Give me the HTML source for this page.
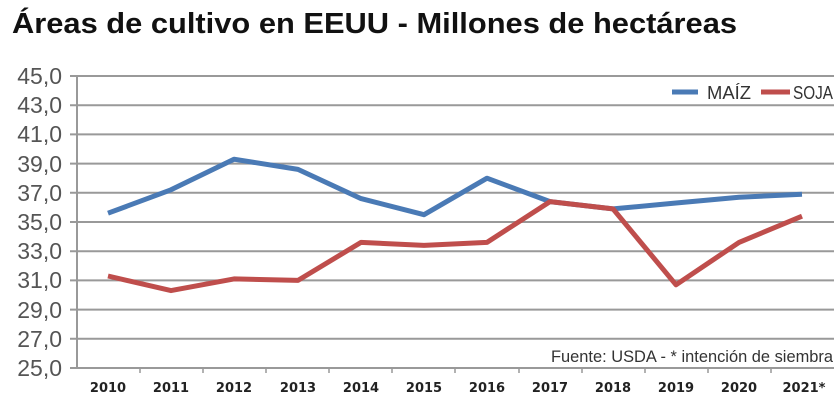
<!DOCTYPE html>
<html><head><meta charset="utf-8"><style>body{margin:0;background:#fff}</style></head><body>
<svg width="840" height="400" xmlns="http://www.w3.org/2000/svg" font-family="Liberation Sans, sans-serif">
<text x="12" y="33" font-size="29" font-weight="bold" fill="#111" textLength="725" lengthAdjust="spacingAndGlyphs">Áreas de cultivo en EEUU - Millones de hectáreas</text>
<g stroke="#999" stroke-width="2">
<line x1="70" y1="76" x2="834" y2="76"/><line x1="70" y1="105.2" x2="834" y2="105.2"/><line x1="70" y1="134.4" x2="834" y2="134.4"/><line x1="70" y1="163.6" x2="834" y2="163.6"/><line x1="70" y1="192.8" x2="834" y2="192.8"/><line x1="70" y1="222" x2="834" y2="222"/><line x1="70" y1="251.2" x2="834" y2="251.2"/><line x1="70" y1="280.4" x2="834" y2="280.4"/><line x1="70" y1="309.6" x2="834" y2="309.6"/><line x1="70" y1="338.8" x2="834" y2="338.8"/><line x1="70" y1="368" x2="834" y2="368"/>
<line x1="77" y1="76" x2="77" y2="368"/>
</g>
<g stroke="#999" stroke-width="1.5">
<line x1="140" y1="368" x2="140" y2="373"/><line x1="203" y1="368" x2="203" y2="373"/><line x1="266" y1="368" x2="266" y2="373"/><line x1="329" y1="368" x2="329" y2="373"/><line x1="392" y1="368" x2="392" y2="373"/><line x1="455" y1="368" x2="455" y2="373"/><line x1="519" y1="368" x2="519" y2="373"/><line x1="582" y1="368" x2="582" y2="373"/><line x1="645" y1="368" x2="645" y2="373"/><line x1="708" y1="368" x2="708" y2="373"/><line x1="771" y1="368" x2="771" y2="373"/>
</g>
<g font-size="23" fill="#555" text-anchor="end">
<text x="62" y="84">45,0</text><text x="62" y="113">43,0</text><text x="62" y="142">41,0</text><text x="62" y="172">39,0</text><text x="62" y="201">37,0</text><text x="62" y="230">35,0</text><text x="62" y="259">33,0</text><text x="62" y="288">31,0</text><text x="62" y="318">29,0</text><text x="62" y="347">27,0</text><text x="62" y="376">25,0</text>
</g>
<g font-size="13" font-weight="bold" fill="#222" text-anchor="middle" font-family="DejaVu Sans, sans-serif">
<text x="108" y="392">2010</text><text x="171" y="392">2011</text><text x="234" y="392">2012</text><text x="298" y="392">2013</text><text x="361" y="392">2014</text><text x="424" y="392">2015</text><text x="487" y="392">2016</text><text x="550" y="392">2017</text><text x="613" y="392">2018</text><text x="676" y="392">2019</text><text x="739" y="392">2020</text><text x="804" y="392">2021*</text>
</g>
<polyline fill="none" stroke="#4a7ab5" stroke-width="5" stroke-linejoin="round" points="108,213.2 171,189.8 234,159.2 298,169.4 361,198.6 424,214.7 487,178.2 550,201.6 613,208.9 676,203 739,197.2 802,194.3"/>
<polyline fill="none" stroke="#bf4e4c" stroke-width="5" stroke-linejoin="round" points="108,276 171,290.6 234,278.9 298,280.4 361,242.4 424,245.4 487,242.4 550,201.6 613,208.9 676,284.8 739,242.4 802,216.2"/>
<line x1="672" y1="92" x2="698" y2="92" stroke="#4a7ab5" stroke-width="5"/>
<text x="707" y="99" font-size="18" fill="#333" textLength="44" lengthAdjust="spacingAndGlyphs">MAÍZ</text>
<line x1="761" y1="92" x2="790" y2="92" stroke="#bf4e4c" stroke-width="5"/>
<text x="793" y="99" font-size="18" fill="#333" textLength="40" lengthAdjust="spacingAndGlyphs">SOJA</text>
<text x="833" y="362" font-size="17" fill="#333" text-anchor="end" textLength="282" lengthAdjust="spacingAndGlyphs">Fuente: USDA - * intención de siembra</text>
</svg>
</body></html>
